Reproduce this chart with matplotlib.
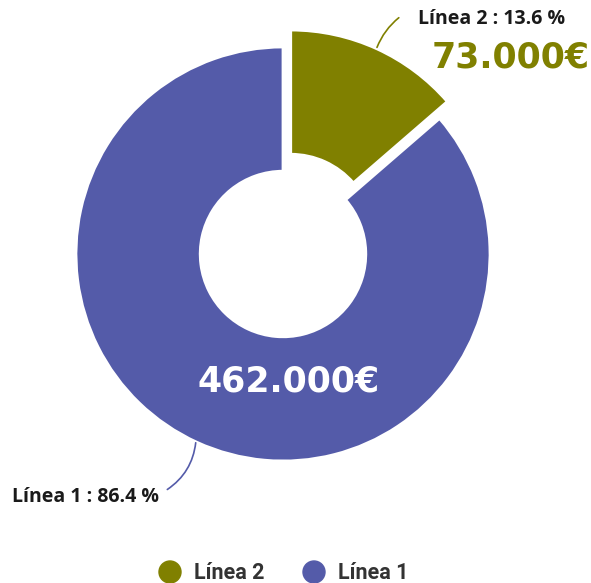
import matplotlib
matplotlib.use("Agg")
import matplotlib.pyplot as plt

categories = ["Línea 2", "Línea 1"]
values = [73000, 462000]
percents = ["13.6", "86.4"]
value_labels = ["73.000€", "462.000€"]
colors = ["#808000", "#545BA9"]

W, H = 591, 583
fig = plt.figure(figsize=(W / 100, H / 100), dpi=100)
ax = fig.add_axes([0, 0, 1, 1])
cx, cy, R = 283, 254, 207

ax.pie(values, colors=colors, startangle=90, counterclock=False,
       explode=[0.09, 0], radius=1, center=(0, 0),
       wedgeprops=dict(width=0.6, edgecolor="white", linewidth=2))
ax.set_xlim(-cx / R, (W - cx) / R)
ax.set_ylim((cy - H) / R, cy / R)
ax.set_aspect("equal")
ax.axis("off")

def fx(x):
    return x / W
def fy(y):
    return 1 - y / H

# leader lines
ax.annotate("", xy=(376, H - 50), xycoords="figure pixels",
            xytext=(401, H - 16), textcoords="figure pixels",
            arrowprops=dict(arrowstyle="-", color=colors[0], lw=1.2,
                            connectionstyle="arc3,rad=0.15"))
ax.annotate("", xy=(196, H - 440), xycoords="figure pixels",
            xytext=(165, H - 491), textcoords="figure pixels",
            arrowprops=dict(arrowstyle="-", color=colors[1], lw=1.2,
                            connectionstyle="arc3,rad=0.25"))

lab_font = ["Open Sans", "DejaVu Sans"]
fig.text(fx(418), fy(19), f"{categories[0]} : {percents[0]} %", ha="left", va="center",
         fontsize=14, fontweight="bold", family=lab_font, color="#1a1a1a")
fig.text(fx(12), fy(497), f"{categories[1]} : {percents[1]} %", ha="left", va="center",
         fontsize=14, fontweight="bold", family=lab_font, color="#1a1a1a")

val_font = ["DejaVu Sans"]
fig.text(fx(590), fy(57), value_labels[0], ha="right", va="center",
         fontsize=25, fontweight="bold", family=val_font, color=colors[0])
fig.text(fx(289), fy(382), value_labels[1], ha="center", va="center",
         fontsize=25, fontweight="bold", family=val_font, color="white")

# legend
leg_x = [170, 314]
for i, (c, col) in enumerate(zip(categories, colors)):
    fig.patches.append(matplotlib.patches.Ellipse((fx(leg_x[i]), fy(572)), 22 / W, 22 / H,
                                                  transform=fig.transFigure, color=col))
    fig.text(fx(leg_x[i] + 24), fy(573), c, ha="left", va="center", fontsize=15.5,
             fontweight="bold", family=["Roboto", "DejaVu Sans"], color="#333333")

fig.savefig("out.png", dpi=100)
